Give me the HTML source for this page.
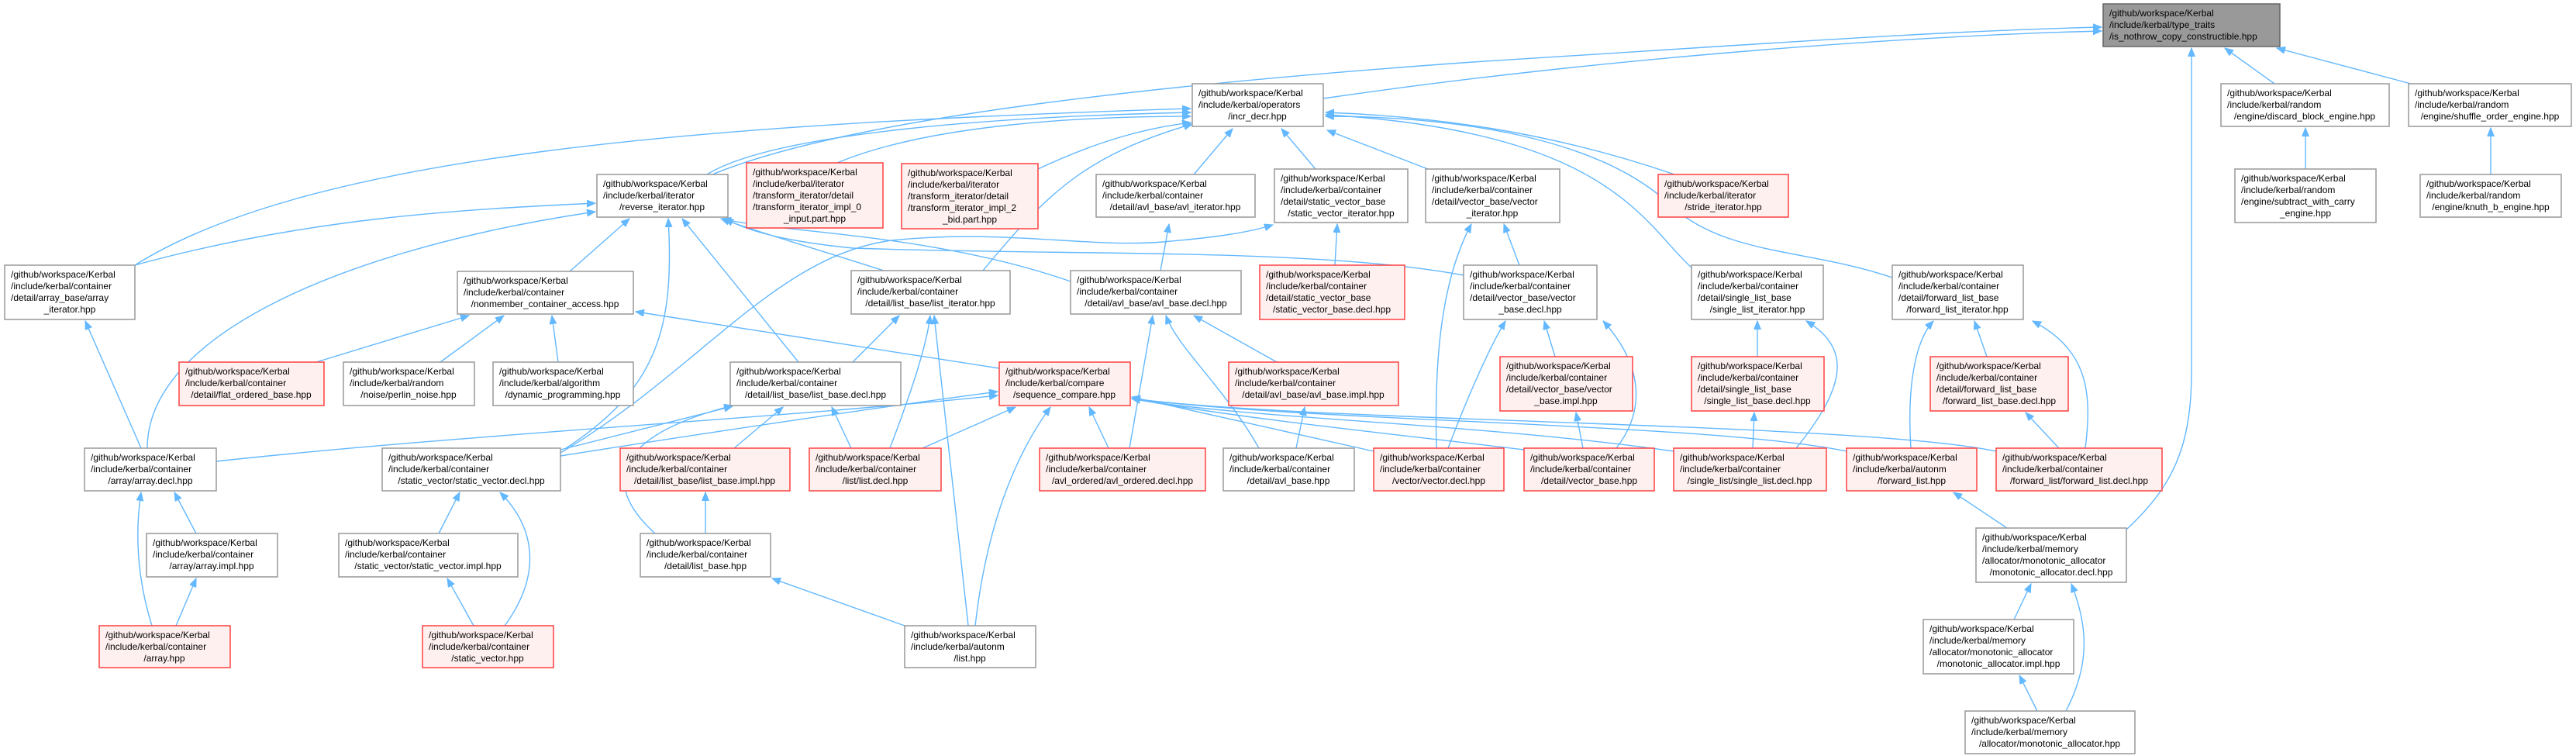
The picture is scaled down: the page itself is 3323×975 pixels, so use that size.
<!DOCTYPE html>
<html><head><meta charset="utf-8"><style>
html,body{margin:0;padding:0;background:#fff;width:3323px;height:975px;overflow:hidden}
svg{display:block}
text{font-family:"Liberation Sans",sans-serif;font-size:12px;fill:#000}
.n{fill:#fff;stroke:#999;stroke-width:1.5}
.r{fill:#fff0f0;stroke:#ff4040;stroke-width:1.5}
.g{fill:#999;stroke:#666;stroke-width:1.5}
.e{fill:none;stroke:#63b8ff;stroke-width:1.4;marker-end:url(#a)}
.c{text-anchor:middle}
</style></head><body>
<svg width="3323" height="975" viewBox="0 0 3323 975" xmlns="http://www.w3.org/2000/svg">
<defs><marker id="a" markerUnits="userSpaceOnUse" markerWidth="12" markerHeight="10" refX="11" refY="4.5" orient="auto"><path d="M0,0 L11,4.5 L0,9 z" fill="#63b8ff" stroke="#63b8ff"/></marker></defs>
<g>
<path class="e" d="M1707,127 C2100,70 2500,45 2711,40"/>
<path class="e" d="M919,225 C1100,150 1520,107 1900,80 C2300,55 2500,40 2711,35"/>
<path class="e" d="M2934,108 L2870,62"/>
<path class="e" d="M3110,108 L2937,62"/>
<path class="e" d="M2743,683 C2800,630 2827,580 2827,480 L2827,62"/>
<path class="e" d="M2974,218 L2974,165"/>
<path class="e" d="M3213,225 L3213,165"/>
<path class="e" d="M912,225 C1000,170 1300,150 1536,145"/>
<path class="e" d="M174,342 C400,200 900,160 1536,140"/>
<path class="e" d="M1080,210 C1200,160 1400,150 1536,150"/>
<path class="e" d="M1339,218 C1420,180 1480,165 1536,158"/>
<path class="e" d="M1268,349 C1350,250 1400,200 1538,160"/>
<path class="e" d="M1540,225 L1590,166"/>
<path class="e" d="M1697,218 L1653,166"/>
<path class="e" d="M1842,218 L1712,168"/>
<path class="e" d="M2160,225 C2000,170 1850,150 1710,145"/>
<path class="e" d="M2184,347 C2120,290 2080,170 1710,148"/>
<path class="e" d="M2441,358 C2330,320 2220,330 2150,260 C2050,170 1850,150 1710,150"/>
<path class="e" d="M174,342 C400,280 600,270 768,262"/>
<path class="e" d="M190,578 C190,430 450,320 768,273"/>
<path class="e" d="M735,350 L812,282"/>
<path class="e" d="M730,578 C850,500 870,420 862,282"/>
<path class="e" d="M1030,467 L880,282"/>
<path class="e" d="M1140,349 C1050,320 980,300 930,282"/>
<path class="e" d="M1381,363 C1200,300 1000,300 932,282"/>
<path class="e" d="M1888,355 C1700,320 1400,330 1100,320 C1000,310 960,295 935,282"/>
<path class="e" d="M723,584 C900,480 1000,330 1150,310 C1300,295 1400,320 1500,312 C1570,306 1610,300 1642,290"/>
<path class="e" d="M408,467 L605,407"/>
<path class="e" d="M568,467 L650,407"/>
<path class="e" d="M720,467 L712,407"/>
<path class="e" d="M1289,475 L820,402"/>
<path class="e" d="M1100,467 L1160,407"/>
<path class="e" d="M1148,578 C1170,520 1195,450 1200,407"/>
<path class="e" d="M1249,807 L1205,407"/>
<path class="e" d="M845,688 C770,620 800,560 945,523"/>
<path class="e" d="M947,578 L1010,525"/>
<path class="e" d="M1098,578 L1073,525"/>
<path class="e" d="M723,580 L945,524"/>
<path class="e" d="M279,595 C600,560 1000,540 1287,510"/>
<path class="e" d="M723,588 C900,560 1100,530 1287,505"/>
<path class="e" d="M1190,578 L1310,525"/>
<path class="e" d="M1430,578 L1405,525"/>
<path class="e" d="M1258,807 C1270,700 1300,600 1355,525"/>
<path class="e" d="M1772,582 L1460,512"/>
<path class="e" d="M1966,580 C1800,560 1600,540 1460,514"/>
<path class="e" d="M2159,582 C1900,545 1600,540 1460,514"/>
<path class="e" d="M2382,582 C2200,545 1700,545 1460,514"/>
<path class="e" d="M2575,582 C2400,545 1700,545 1460,514"/>
<path class="e" d="M1457,578 L1487,407"/>
<path class="e" d="M1624,578 C1580,500 1520,450 1504,407"/>
<path class="e" d="M1647,467 L1540,407"/>
<path class="e" d="M1672,578 L1683,525"/>
<path class="e" d="M1497,349 L1508,289"/>
<path class="e" d="M1722,342 L1725,289"/>
<path class="e" d="M2006,460 L1992,414"/>
<path class="e" d="M2085,578 C2130,520 2110,460 2068,414"/>
<path class="e" d="M1868,578 C1890,520 1920,450 1942,414"/>
<path class="e" d="M1960,342 L1940,289"/>
<path class="e" d="M1853,578 C1850,460 1860,360 1898,289"/>
<path class="e" d="M2042,578 L2033,532"/>
<path class="e" d="M2267,460 L2267,414"/>
<path class="e" d="M2317,578 C2380,500 2390,450 2330,414"/>
<path class="e" d="M2261,578 L2263,532"/>
<path class="e" d="M2563,460 L2547,414"/>
<path class="e" d="M2465,578 C2460,500 2470,440 2494,414"/>
<path class="e" d="M2690,578 C2700,500 2690,450 2622,414"/>
<path class="e" d="M2656,578 L2613,532"/>
<path class="e" d="M2589,681 L2520,635"/>
<path class="e" d="M2598,799 L2620,753"/>
<path class="e" d="M2665,917 C2700,850 2690,800 2672,753"/>
<path class="e" d="M2628,917 L2605,871"/>
<path class="e" d="M182,578 L110,414"/>
<path class="e" d="M253,688 L225,635"/>
<path class="e" d="M196,807 C175,740 175,680 182,635"/>
<path class="e" d="M227,807 L253,746"/>
<path class="e" d="M566,688 L593,635"/>
<path class="e" d="M651,807 C700,740 690,680 645,635"/>
<path class="e" d="M611,807 L577,746"/>
<path class="e" d="M910,688 L910,635"/>
<path class="e" d="M1167,807 L996,746"/>
</g>
<g>
<rect class="g" x="2713" y="5" width="228" height="55"/><text x="2721" y="21">/github/workspace/Kerbal</text><text x="2721" y="36">/include/kerbal/type_traits</text><text x="2721" y="51">/is_nothrow_copy_constructible.hpp</text>
<rect class="n" x="1538" y="108" width="169" height="55"/><text x="1546" y="124">/github/workspace/Kerbal</text><text x="1546" y="139">/include/kerbal/operators</text><text class="c" x="1622" y="154">/incr_decr.hpp</text>
<rect class="n" x="2865" y="108" width="217" height="55"/><text x="2873" y="124">/github/workspace/Kerbal</text><text x="2873" y="139">/include/kerbal/random</text><text class="c" x="2973" y="154">/engine/discard_block_engine.hpp</text>
<rect class="n" x="3107" y="108" width="210" height="55"/><text x="3115" y="124">/github/workspace/Kerbal</text><text x="3115" y="139">/include/kerbal/random</text><text class="c" x="3212" y="154">/engine/shuffle_order_engine.hpp</text>
<rect class="n" x="770" y="225" width="169" height="55"/><text x="778" y="241">/github/workspace/Kerbal</text><text x="778" y="256">/include/kerbal/iterator</text><text class="c" x="854" y="271">/reverse_iterator.hpp</text>
<rect class="r" x="963" y="210" width="176" height="84"/><text x="971" y="226">/github/workspace/Kerbal</text><text x="971" y="241">/include/kerbal/iterator</text><text x="971" y="256">/transform_iterator/detail</text><text x="971" y="271">/transform_iterator_impl_0</text><text class="c" x="1051" y="286">_input.part.hpp</text>
<rect class="r" x="1163" y="211" width="176" height="84"/><text x="1171" y="227">/github/workspace/Kerbal</text><text x="1171" y="242">/include/kerbal/iterator</text><text x="1171" y="257">/transform_iterator/detail</text><text x="1171" y="272">/transform_iterator_impl_2</text><text class="c" x="1251" y="287">_bid.part.hpp</text>
<rect class="n" x="1414" y="225" width="205" height="55"/><text x="1422" y="241">/github/workspace/Kerbal</text><text x="1422" y="256">/include/kerbal/container</text><text class="c" x="1516" y="271">/detail/avl_base/avl_iterator.hpp</text>
<rect class="n" x="1644" y="218" width="172" height="69"/><text x="1652" y="234">/github/workspace/Kerbal</text><text x="1652" y="249">/include/kerbal/container</text><text x="1652" y="264">/detail/static_vector_base</text><text class="c" x="1730" y="279">/static_vector_iterator.hpp</text>
<rect class="n" x="1839" y="218" width="173" height="69"/><text x="1847" y="234">/github/workspace/Kerbal</text><text x="1847" y="249">/include/kerbal/container</text><text x="1847" y="264">/detail/vector_base/vector</text><text class="c" x="1925" y="279">_iterator.hpp</text>
<rect class="r" x="2139" y="225" width="168" height="55"/><text x="2147" y="241">/github/workspace/Kerbal</text><text x="2147" y="256">/include/kerbal/iterator</text><text class="c" x="2223" y="271">/stride_iterator.hpp</text>
<rect class="n" x="2883" y="218" width="182" height="69"/><text x="2891" y="234">/github/workspace/Kerbal</text><text x="2891" y="249">/include/kerbal/random</text><text x="2891" y="264">/engine/subtract_with_carry</text><text class="c" x="2974" y="279">_engine.hpp</text>
<rect class="n" x="3122" y="225" width="182" height="55"/><text x="3130" y="241">/github/workspace/Kerbal</text><text x="3130" y="256">/include/kerbal/random</text><text class="c" x="3213" y="271">/engine/knuth_b_engine.hpp</text>
<rect class="n" x="6" y="342" width="168" height="70"/><text x="14" y="358">/github/workspace/Kerbal</text><text x="14" y="373">/include/kerbal/container</text><text x="14" y="388">/detail/array_base/array</text><text class="c" x="90" y="403">_iterator.hpp</text>
<rect class="n" x="590" y="350" width="227" height="55"/><text x="598" y="366">/github/workspace/Kerbal</text><text x="598" y="381">/include/kerbal/container</text><text class="c" x="703" y="396">/nonmember_container_access.hpp</text>
<rect class="n" x="1098" y="349" width="205" height="56"/><text x="1106" y="365">/github/workspace/Kerbal</text><text x="1106" y="380">/include/kerbal/container</text><text class="c" x="1200" y="395">/detail/list_base/list_iterator.hpp</text>
<rect class="n" x="1381" y="349" width="220" height="56"/><text x="1389" y="365">/github/workspace/Kerbal</text><text x="1389" y="380">/include/kerbal/container</text><text class="c" x="1491" y="395">/detail/avl_base/avl_base.decl.hpp</text>
<rect class="r" x="1625" y="342" width="187" height="70"/><text x="1633" y="358">/github/workspace/Kerbal</text><text x="1633" y="373">/include/kerbal/container</text><text x="1633" y="388">/detail/static_vector_base</text><text class="c" x="1718" y="403">/static_vector_base.decl.hpp</text>
<rect class="n" x="1888" y="342" width="172" height="70"/><text x="1896" y="358">/github/workspace/Kerbal</text><text x="1896" y="373">/include/kerbal/container</text><text x="1896" y="388">/detail/vector_base/vector</text><text class="c" x="1974" y="403">_base.decl.hpp</text>
<rect class="n" x="2182" y="342" width="170" height="70"/><text x="2190" y="358">/github/workspace/Kerbal</text><text x="2190" y="373">/include/kerbal/container</text><text x="2190" y="388">/detail/single_list_base</text><text class="c" x="2267" y="403">/single_list_iterator.hpp</text>
<rect class="n" x="2441" y="342" width="169" height="70"/><text x="2449" y="358">/github/workspace/Kerbal</text><text x="2449" y="373">/include/kerbal/container</text><text x="2449" y="388">/detail/forward_list_base</text><text class="c" x="2525" y="403">/forward_list_iterator.hpp</text>
<rect class="r" x="231" y="467" width="187" height="56"/><text x="239" y="483">/github/workspace/Kerbal</text><text x="239" y="498">/include/kerbal/container</text><text class="c" x="324" y="513">/detail/flat_ordered_base.hpp</text>
<rect class="n" x="443" y="467" width="169" height="56"/><text x="451" y="483">/github/workspace/Kerbal</text><text x="451" y="498">/include/kerbal/random</text><text class="c" x="527" y="513">/noise/perlin_noise.hpp</text>
<rect class="n" x="636" y="467" width="181" height="56"/><text x="644" y="483">/github/workspace/Kerbal</text><text x="644" y="498">/include/kerbal/algorithm</text><text class="c" x="726" y="513">/dynamic_programming.hpp</text>
<rect class="n" x="942" y="467" width="220" height="56"/><text x="950" y="483">/github/workspace/Kerbal</text><text x="950" y="498">/include/kerbal/container</text><text class="c" x="1052" y="513">/detail/list_base/list_base.decl.hpp</text>
<rect class="r" x="1289" y="467" width="169" height="56"/><text x="1297" y="483">/github/workspace/Kerbal</text><text x="1297" y="498">/include/kerbal/compare</text><text class="c" x="1373" y="513">/sequence_compare.hpp</text>
<rect class="r" x="1585" y="467" width="219" height="56"/><text x="1593" y="483">/github/workspace/Kerbal</text><text x="1593" y="498">/include/kerbal/container</text><text class="c" x="1694" y="513">/detail/avl_base/avl_base.impl.hpp</text>
<rect class="r" x="1935" y="460" width="171" height="70"/><text x="1943" y="476">/github/workspace/Kerbal</text><text x="1943" y="491">/include/kerbal/container</text><text x="1943" y="506">/detail/vector_base/vector</text><text class="c" x="2020" y="521">_base.impl.hpp</text>
<rect class="r" x="2182" y="460" width="171" height="70"/><text x="2190" y="476">/github/workspace/Kerbal</text><text x="2190" y="491">/include/kerbal/container</text><text x="2190" y="506">/detail/single_list_base</text><text class="c" x="2267" y="521">/single_list_base.decl.hpp</text>
<rect class="r" x="2490" y="460" width="178" height="70"/><text x="2498" y="476">/github/workspace/Kerbal</text><text x="2498" y="491">/include/kerbal/container</text><text x="2498" y="506">/detail/forward_list_base</text><text class="c" x="2579" y="521">/forward_list_base.decl.hpp</text>
<rect class="n" x="109" y="578" width="170" height="55"/><text x="117" y="594">/github/workspace/Kerbal</text><text x="117" y="609">/include/kerbal/container</text><text class="c" x="194" y="624">/array/array.decl.hpp</text>
<rect class="n" x="493" y="578" width="230" height="55"/><text x="501" y="594">/github/workspace/Kerbal</text><text x="501" y="609">/include/kerbal/container</text><text class="c" x="608" y="624">/static_vector/static_vector.decl.hpp</text>
<rect class="r" x="800" y="578" width="219" height="55"/><text x="808" y="594">/github/workspace/Kerbal</text><text x="808" y="609">/include/kerbal/container</text><text class="c" x="909" y="624">/detail/list_base/list_base.impl.hpp</text>
<rect class="r" x="1044" y="578" width="170" height="55"/><text x="1052" y="594">/github/workspace/Kerbal</text><text x="1052" y="609">/include/kerbal/container</text><text class="c" x="1129" y="624">/list/list.decl.hpp</text>
<rect class="r" x="1341" y="578" width="214" height="55"/><text x="1349" y="594">/github/workspace/Kerbal</text><text x="1349" y="609">/include/kerbal/container</text><text class="c" x="1448" y="624">/avl_ordered/avl_ordered.decl.hpp</text>
<rect class="n" x="1578" y="578" width="169" height="55"/><text x="1586" y="594">/github/workspace/Kerbal</text><text x="1586" y="609">/include/kerbal/container</text><text class="c" x="1662" y="624">/detail/avl_base.hpp</text>
<rect class="r" x="1772" y="578" width="168" height="55"/><text x="1780" y="594">/github/workspace/Kerbal</text><text x="1780" y="609">/include/kerbal/container</text><text class="c" x="1856" y="624">/vector/vector.decl.hpp</text>
<rect class="r" x="1966" y="578" width="168" height="55"/><text x="1974" y="594">/github/workspace/Kerbal</text><text x="1974" y="609">/include/kerbal/container</text><text class="c" x="2050" y="624">/detail/vector_base.hpp</text>
<rect class="r" x="2159" y="578" width="197" height="55"/><text x="2167" y="594">/github/workspace/Kerbal</text><text x="2167" y="609">/include/kerbal/container</text><text class="c" x="2257" y="624">/single_list/single_list.decl.hpp</text>
<rect class="r" x="2382" y="578" width="168" height="55"/><text x="2390" y="594">/github/workspace/Kerbal</text><text x="2390" y="609">/include/kerbal/autonm</text><text class="c" x="2466" y="624">/forward_list.hpp</text>
<rect class="r" x="2575" y="578" width="214" height="55"/><text x="2583" y="594">/github/workspace/Kerbal</text><text x="2583" y="609">/include/kerbal/container</text><text class="c" x="2682" y="624">/forward_list/forward_list.decl.hpp</text>
<rect class="n" x="189" y="688" width="169" height="56"/><text x="197" y="704">/github/workspace/Kerbal</text><text x="197" y="719">/include/kerbal/container</text><text class="c" x="273" y="734">/array/array.impl.hpp</text>
<rect class="n" x="437" y="688" width="231" height="56"/><text x="445" y="704">/github/workspace/Kerbal</text><text x="445" y="719">/include/kerbal/container</text><text class="c" x="552" y="734">/static_vector/static_vector.impl.hpp</text>
<rect class="n" x="826" y="688" width="168" height="56"/><text x="834" y="704">/github/workspace/Kerbal</text><text x="834" y="719">/include/kerbal/container</text><text class="c" x="910" y="734">/detail/list_base.hpp</text>
<rect class="n" x="2549" y="681" width="194" height="70"/><text x="2557" y="697">/github/workspace/Kerbal</text><text x="2557" y="712">/include/kerbal/memory</text><text x="2557" y="727">/allocator/monotonic_allocator</text><text class="c" x="2646" y="742">/monotonic_allocator.decl.hpp</text>
<rect class="r" x="128" y="807" width="169" height="54"/><text x="136" y="823">/github/workspace/Kerbal</text><text x="136" y="838">/include/kerbal/container</text><text class="c" x="212" y="853">/array.hpp</text>
<rect class="r" x="545" y="807" width="169" height="54"/><text x="553" y="823">/github/workspace/Kerbal</text><text x="553" y="838">/include/kerbal/container</text><text class="c" x="629" y="853">/static_vector.hpp</text>
<rect class="n" x="1167" y="807" width="169" height="54"/><text x="1175" y="823">/github/workspace/Kerbal</text><text x="1175" y="838">/include/kerbal/autonm</text><text class="c" x="1251" y="853">/list.hpp</text>
<rect class="n" x="2481" y="799" width="194" height="70"/><text x="2489" y="815">/github/workspace/Kerbal</text><text x="2489" y="830">/include/kerbal/memory</text><text x="2489" y="845">/allocator/monotonic_allocator</text><text class="c" x="2578" y="860">/monotonic_allocator.impl.hpp</text>
<rect class="n" x="2535" y="917" width="219" height="55"/><text x="2543" y="933">/github/workspace/Kerbal</text><text x="2543" y="948">/include/kerbal/memory</text><text class="c" x="2644" y="963">/allocator/monotonic_allocator.hpp</text>
</g>
</svg>
</body></html>
